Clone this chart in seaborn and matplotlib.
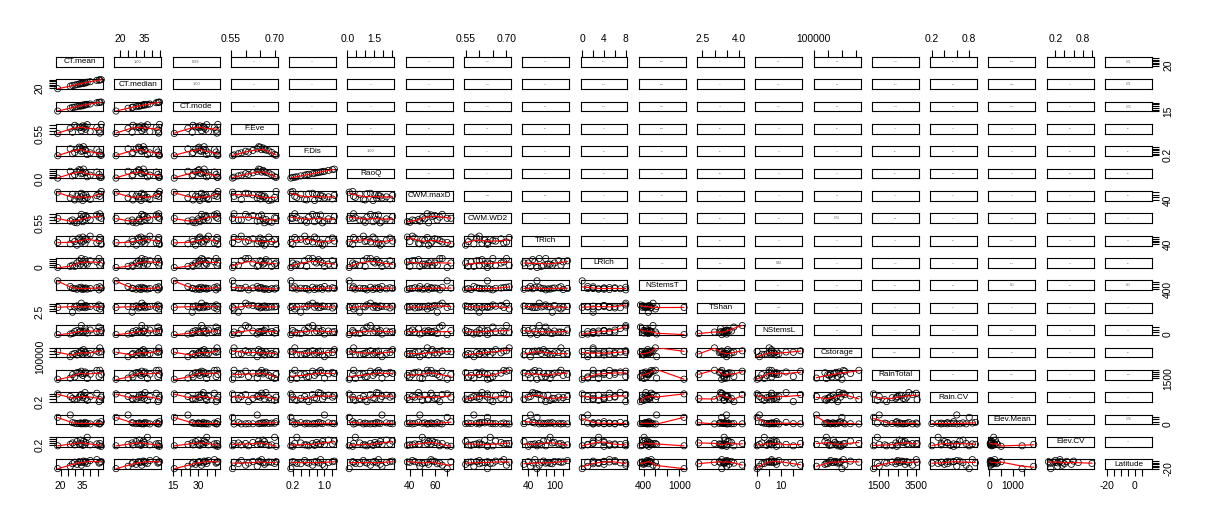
import matplotlib
matplotlib.use("Agg")
import matplotlib.pyplot as plt
import numpy as np
import pandas as pd
import seaborn as sns

# site values (18 sites)
CT_mean = [18.0, 26.5, 28.0, 29.5, 31.0, 32.5, 33.5, 34.0, 35.0, 35.5, 36.5, 37.0, 38.0, 40.0, 44.5, 46.0, 46.5, 47.5]
CT_median = [17.5, 25.0, 27.5, 28.0, 30.0, 31.5, 32.0, 33.5, 33.0, 34.5, 35.5, 35.0, 37.0, 38.5, 42.5, 43.5, 44.0, 44.5]
CT_mode = [16.0, 24.0, 26.5, 27.0, 28.5, 30.5, 30.0, 32.0, 31.0, 33.5, 33.0, 34.5, 35.0, 36.0, 39.5, 40.5, 41.0, 41.5]
F_Eve = [0.555, 0.640, 0.575, 0.690, 0.665, 0.650, 0.660, 0.600, 0.680, 0.645, 0.670, 0.625, 0.700, 0.585, 0.655, 0.610, 0.560, 0.705]
F_Dis = [0.15, 1.00, 0.40, 0.55, 0.95, 1.20, 1.10, 0.70, 0.75, 1.25, 0.85, 0.80, 0.30, 0.50, 0.90, 0.60, 0.25, 0.20]
RaoQ = [0.10, 1.95, 0.70, 1.00, 1.85, 2.40, 2.20, 1.30, 1.45, 2.55, 1.65, 1.55, 0.45, 0.90, 1.75, 1.10, 0.35, 0.30]
CWM_maxD = [70, 48, 62, 40, 55, 44, 52, 66, 38, 58, 47, 60, 50, 42, 57, 64, 54, 73]
CWM_WD2 = [0.63, 0.58, 0.60, 0.56, 0.55, 0.59, 0.62, 0.70, 0.57, 0.66, 0.61, 0.68, 0.64, 0.60, 0.69, 0.65, 0.71, 0.63]
TRich = [60, 45, 95, 70, 30, 110, 85, 65, 120, 75, 50, 100, 90, 130, 55, 80, 115, 40]
LRich = [0, 1, 2, 1, 4, 6, 3, 8, 5, 2, 7, 4, 3, 6, 5, 8, 2, 4]
NStemsT = [1080, 620, 480, 450, 400, 520, 430, 560, 380, 470, 440, 500, 410, 460, 530, 350, 600, 490]
TShan = [3.3, 3.5, 2.35, 3.4, 3.6, 3.2, 3.45, 4.15, 3.35, 3.55, 3.25, 3.7, 3.4, 3.5, 3.3, 3.8, 3.0, 3.5]
NStemsL = [0, 1, 2, 6, 8, 5, 7, 18, 4, 6, 12, 7, 3, 9, 6, 15, 5, 8]
Cstorage = [200000, 110000, 150000, 165000, 140000, 180000, 170000, 210000, 155000, 230000,
            190000, 175000, 145000, 160000, 205000, 185000, 260000, 195000]
RainTotal = [1200, 1500, 2400, 1800, 2900, 3000, 2600, 3300, 2200, 2700, 3100, 2800, 1400, 2500, 3500, 1900, 3550, 2450]
Rain_CV = [0.80, 0.60, 0.45, 0.35, 0.40, 0.55, 0.70, 0.75, 0.50, 0.65, 0.90, 0.45, 0.30, 0.60, 0.85, 0.20, 0.35, 0.55]
Elev_Mean = [1400, 1900, 300, 200, 100, 150, 250, 50, 120, 80, 350, 60, 180, 40, 220, 90, 30, 500]
Elev_CV = [0.10, 0.25, 0.40, 0.20, 0.55, 0.30, 0.70, 0.35, 0.15, 0.60, 0.25, 0.45, 1.00, 0.20, 0.30, 0.10, 0.35, 0.05]
Latitude = [-20, -12, -3, 2, -5, 4, 1, -8, 3, 6, 0, 5, -2, 8, 11, -1, 2, 4]

names = ["CT.mean", "CT.median", "CT.mode", "F.Eve", "F.Dis", "RaoQ", "CWM.maxD", "CWM.WD2",
         "TRich", "LRich", "NStemsT", "TShan", "NStemsL", "Cstorage", "RainTotal", "Rain.CV",
         "Elev.Mean", "Elev.CV", "Latitude"]
columns = [CT_mean, CT_median, CT_mode, F_Eve, F_Dis, RaoQ, CWM_maxD, CWM_WD2, TRich, LRich,
           NStemsT, TShan, NStemsL, Cstorage, RainTotal, Rain_CV, Elev_Mean, Elev_CV, Latitude]

# axis ticks and the labels R manages to print (others dropped for overlap)
ticks = [
    ([20, 25, 30, 35, 40, 45], ["20", "", "", "35", "", ""]),
    ([20, 25, 30, 35, 40, 45], ["20", "", "", "35", "", ""]),
    ([15, 20, 25, 30, 35, 40], ["15", "", "", "30", "", ""]),
    ([0.55, 0.60, 0.65, 0.70], ["0.55", "", "", "0.70"]),
    ([0.2, 0.4, 0.6, 0.8, 1.0, 1.2], ["0.2", "", "", "", "1.0", ""]),
    ([0.0, 0.5, 1.0, 1.5, 2.0, 2.5], ["0.0", "", "", "1.5", "", ""]),
    ([40, 50, 60, 70], ["40", "", "60", ""]),
    ([0.55, 0.60, 0.65, 0.70], ["0.55", "", "", "0.70"]),
    ([40, 60, 80, 100, 120], ["40", "", "", "100", ""]),
    ([0, 2, 4, 6, 8], ["0", "", "4", "", "8"]),
    ([400, 600, 800, 1000], ["400", "", "", "1000"]),
    ([2.5, 3.0, 3.5, 4.0], ["2.5", "", "", "4.0"]),
    ([0, 5, 10, 15], ["0", "", "10", ""]),
    ([100000, 150000, 200000, 250000], ["100000", "", "", ""]),
    ([1500, 2000, 2500, 3000, 3500], ["1500", "", "", "", "3500"]),
    ([0.2, 0.4, 0.6, 0.8], ["0.2", "", "", "0.8"]),
    ([0, 500, 1000, 1500], ["0", "", "1000", ""]),
    ([0.2, 0.4, 0.6, 0.8, 1.0], ["0.2", "", "", "0.8", ""]),
    ([-20, -15, -10, -5, 0, 5], ["-20", "", "", "", "0", ""]),
]

df = pd.DataFrame(dict(zip(names, columns)))


def lowess(x, y, f=2 / 3, iters=3):
    # plain R-style lowess, linear local fits with tricube weights
    order = np.argsort(x, kind="stable")
    x = np.asarray(x, float)[order]
    y = np.asarray(y, float)[order]
    n = len(x)
    r = int(np.ceil(f * n))
    robust = np.ones(n)
    fit = np.zeros(n)
    for it in range(iters + 1):
        for i in range(n):
            d = np.abs(x - x[i])
            h = max(np.sort(d)[r - 1], 1e-12)
            w = np.clip(d / h, 0, 1)
            w = (1 - w ** 3) ** 3 * robust
            sw = w.sum()
            xm = (w * x).sum() / sw
            ym = (w * y).sum() / sw
            sxx = (w * (x - xm) ** 2).sum()
            b = (w * (x - xm) * (y - ym)).sum() / sxx if sxx > 1e-12 else 0.0
            fit[i] = ym + b * (x[i] - xm)
        res = y - fit
        s = np.median(np.abs(res))
        if s <= 0:
            break
        u = np.clip(res / (6 * s), -1, 1)
        robust = (1 - u ** 2) ** 2
    return x, fit


sns.set_style("white")
plt.rcParams["font.family"] = ["Liberation Sans", "DejaVu Sans"]

k = len(names)
fig, axes = plt.subplots(k, k, figsize=(12.08, 5.27), dpi=100, sharex="col", sharey="row")
fig.subplots_adjust(left=56 / 1208, right=1152 / 1208, top=1 - 57 / 527, bottom=1 - 469 / 527,
                    wspace=0.24, hspace=1.3)

lims = []
for col in columns:
    lo, hi = min(col), max(col)
    pad = (hi - lo) * 0.04
    lims.append((lo - pad, hi + pad))

for i in range(k):
    for j in range(k):
        ax = axes[i, j]
        for s in ax.spines.values():
            s.set_color("black")
            s.set_linewidth(0.8)
        if i == j:
            ax.text(0.5, 0.5, names[i], transform=ax.transAxes, ha="center", va="center",
                    fontsize=5.9, color="black")
        elif i > j:
            sns.scatterplot(data=df, x=names[j], y=names[i], ax=ax, marker="o", s=20,
                            facecolor="none", edgecolor="black", linewidth=0.55, clip_on=False,
                            zorder=3)
            lx, ly = lowess(df[names[j]].values, df[names[i]].values)
            sns.lineplot(x=lx, y=ly, ax=ax, color="red", linewidth=0.85, sort=False, estimator=None,
                         zorder=4)
        else:
            r = np.corrcoef(df[names[j]], df[names[i]])[0, 1]
            ax.text(0.5, 0.5, f"{abs(r):.2f}", transform=ax.transAxes, ha="center", va="center",
                    fontsize=max(2.8 * abs(r), 0.05), color="0.35")
        ax.set_xlabel("")
        ax.set_ylabel("")
        ax.tick_params(which="both", left=False, right=False, top=False, bottom=False,
                       labelleft=False, labelright=False, labeltop=False, labelbottom=False)

for j in range(k):
    axes[0, j].set_xlim(lims[j])
    axes[0, j].set_xticks(ticks[j][0], ticks[j][1])
for i in range(k):
    axes[i, 0].set_ylim(lims[i])
    axes[i, 0].set_yticks(ticks[i][0], [ticks[i][1][0]] + [""] * (len(ticks[i][0]) - 1))

tick_kw = dict(direction="out", length=5, width=0.8, color="black", labelsize=7.4, labelcolor="black")
for j in range(k):
    if j % 2 == 1:
        ax = axes[0, j]
        ax.tick_params(axis="x", top=True, labeltop=True, pad=4, **tick_kw)
    else:
        ax = axes[k - 1, j]
        ax.tick_params(axis="x", bottom=True, labelbottom=True, pad=4, **tick_kw)
for i in range(k):
    if i % 2 == 1:
        ax = axes[i, 0]
        ax.tick_params(axis="y", left=True, labelleft=True, pad=3, labelrotation=90, **tick_kw)
        for lbl in ax.get_yticklabels():
            lbl.set_va("center")
    else:
        ax = axes[i, k - 1]
        ax.tick_params(axis="y", right=True, labelright=True, pad=3, labelrotation=90, **tick_kw)
        for lbl in ax.get_yticklabels():
            lbl.set_va("center")

fig.savefig("out.png", dpi=100)
